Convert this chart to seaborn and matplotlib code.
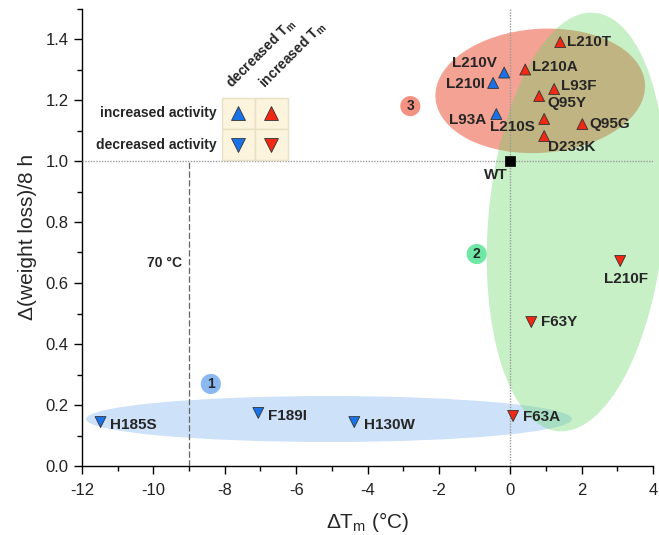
import pandas as pd
import seaborn as sns
import matplotlib.pyplot as plt
from matplotlib import transforms
from matplotlib.patches import Ellipse, Rectangle
from matplotlib.ticker import MultipleLocator

# Mutant data: change of melting temperature vs change of activity
mutants = ["L210T", "L210A", "L210V", "L210I", "L93F", "Q95Y", "L93A", "L210S",
           "Q95G", "D233K", "L210F", "F63Y", "F63A", "H185S", "F189I", "H130W"]
delta_tm = [1.40, 0.42, -0.17, -0.48, 1.23, 0.81, -0.39, 0.95,
            2.02, 0.95, 3.08, 0.59, 0.08, -11.48, -7.06, -4.37]
delta_wl = [1.39, 1.30, 1.29, 1.256, 1.236, 1.213, 1.154, 1.138,
            1.121, 1.082, 0.672, 0.472, 0.164, 0.144, 0.174, 0.144]
tm_effect = ["inc", "inc", "dec", "dec", "inc", "inc", "dec", "inc",
             "inc", "inc", "inc", "inc", "inc", "dec", "dec", "dec"]
activity = ["inc", "inc", "inc", "inc", "inc", "inc", "inc", "inc",
            "inc", "inc", "dec", "dec", "dec", "dec", "dec", "dec"]

wt_tm = [0.0]
wt_wl = [1.0]

# cluster badges
cluster_ids = ["1", "2", "3"]
cluster_x = [-8.39, -0.94, -2.80]
cluster_y = [0.269, 0.695, 1.18]
cluster_colors = ["#8ab8f0", "#6fe8a6", "#f49282"]

ref_tm_70 = -9.0

# label placement (offset in points, horizontal alignment)
label_pos = {
    "L210T": (5, 0, "left"), "L210A": (5, 2, "left"), "L210V": (-5, 7, "right"),
    "L210I": (-6, -1, "right"), "L93F": (5, 2, "left"), "Q95Y": (6, -5, "left"),
    "L93A": (-7, -4, "right"), "L210S": (-7, -6, "right"), "Q95G": (5, 0, "left"),
    "D233K": (3, -8, "left"), "L210F": (4, -13, "center"), "F63Y": (7, 0, "left"),
    "F63A": (7, -1, "left"), "H185S": (7, -2, "left"), "F189I": (7, -2, "left"),
    "H130W": (7, -2, "left"),
}

BLUE = "#1a72e8"
RED = "#f02814"

sns.set_style("ticks")
plt.rcParams['font.family'] = ['Liberation Sans', 'DejaVu Sans']
plt.rcParams['mathtext.fontset'] = 'custom'
plt.rcParams['mathtext.rm'] = 'Liberation Sans'
plt.rcParams['mathtext.bf'] = 'Liberation Sans:bold'
plt.rcParams['mathtext.it'] = 'Liberation Sans:italic'
plt.rcParams['axes.unicode_minus'] = False

fig = plt.figure(figsize=(6.59, 5.35), dpi=100)
ax = fig.add_axes([82 / 659, 69 / 535, 571 / 659, 457.5 / 535])
ax.set_xlim(-12, 4)
ax.set_ylim(0, 1.5)


def px_ellipse(center, rx, ry, angle, **kw):
    # ellipse sized in pixels, centred on a data point
    tr = (transforms.Affine2D().scale(fig.dpi / 100)
          + transforms.ScaledTranslation(center[0], center[1], ax.transData))
    e = Ellipse((0, 0), 2 * rx, 2 * ry, angle=angle, transform=tr, **kw)
    ax.add_patch(e)
    return e


# Cluster shapes
px_ellipse((-5.08, 0.154), 243, 23, 0, facecolor="#cde1f8", edgecolor="none", zorder=1)
px_ellipse((0.84, 1.23), 105, 62, 4, facecolor="#f4a294", edgecolor="none", zorder=1)
green = px_ellipse((1.85, 0.80), 88, 210, -5, facecolor="#64d764", alpha=0.36,
                   edgecolor="none", zorder=2)
green.set_clip_on(False)

# Reference lines
ax.axhline(1.0, color="#9a9a9a", lw=1, ls=(0, (1, 1)), zorder=3)
ax.axvline(0.0, color="#9a9a9a", lw=1, ls=(0, (1, 1)), zorder=3)
ax.plot([ref_tm_70, ref_tm_70], [0, 1.0], color="#666666", lw=0.9,
        ls=(0, (5, 2)), zorder=3)
ax.text(ref_tm_70 - 0.2, 0.665, "70 °C", ha="right", va="center",
        fontsize=10, fontweight="bold", zorder=6)

df = pd.DataFrame({"mutant": mutants, "dTm": delta_tm, "dWL": delta_wl,
                   "tm": tm_effect, "activity": activity})

sns.scatterplot(data=df, x="dTm", y="dWL", hue="tm", style="activity",
                palette={"inc": RED, "dec": BLUE},
                markers={"inc": "^", "dec": "v"},
                s=62, edgecolor="#333333", linewidth=0.6, legend=False,
                zorder=5, ax=ax)
sns.scatterplot(x=wt_tm, y=wt_wl, marker="s", color="black", s=45,
                edgecolor="black", linewidth=0.5, legend=False, zorder=5, ax=ax)

for name, x, y in zip(mutants, delta_tm, delta_wl):
    dx, dy, ha = label_pos[name]
    ax.annotate(name, (x, y), xytext=(dx, dy), textcoords="offset points",
                ha=ha, va="center", fontsize=11, fontweight="bold", zorder=6)
ax.annotate("WT", (wt_tm[0], wt_wl[0]), xytext=(-2, -10), textcoords="offset points",
            ha="right", va="center", fontsize=11, fontweight="bold", zorder=6)

# Cluster badges
ax.scatter(cluster_x, cluster_y, s=210, c=cluster_colors, edgecolors="none", zorder=5)
for cid, x, y in zip(cluster_ids, cluster_x, cluster_y):
    ax.text(x, y, cid, ha="center", va="center", fontsize=10,
            fontweight="bold", zorder=6)

# Marker key (2x2 table)
col_x = [-8.09, -7.165]
row_y = [1.105, 1.003]
cell_w = 0.925
cell_h = 0.102
key_marker = [["^", "^"], ["v", "v"]]
key_color = [BLUE, RED]
for r in range(2):
    for c in range(2):
        ax.add_patch(Rectangle((col_x[c], row_y[r]), cell_w, cell_h,
                               facecolor="#fcf4dc", edgecolor="#e8dfc4",
                               lw=1, zorder=4))
        ax.scatter(col_x[c] + cell_w / 2, row_y[r] + cell_h / 2,
                   marker=key_marker[r][c], s=100, c=key_color[c],
                   edgecolors="#333333", linewidths=0.6, zorder=5)
row_labels = ["increased activity", "decreased activity"]
for r in range(2):
    ax.text(col_x[0] - 0.15, row_y[r] + cell_h / 2, row_labels[r], ha="right",
            va="center", fontsize=10, fontweight="bold", zorder=6)
col_labels = [r"decreased T$_\mathbf{m}$", r"increased T$_\mathbf{m}$"]
for c in range(2):
    ax.text(col_x[c] + 0.38, row_y[0] + cell_h + 0.02, col_labels[c],
            rotation=45, rotation_mode="anchor", ha="left", va="bottom",
            fontsize=10, fontweight="bold", zorder=6)

# Axes styling
ax.xaxis.set_major_locator(MultipleLocator(2))
ax.xaxis.set_minor_locator(MultipleLocator(1))
ax.yaxis.set_minor_locator(MultipleLocator(0.1))
ax.set_yticks([0.0, 0.2, 0.4, 0.6, 0.8, 1.0, 1.2, 1.4])
ax.set_yticklabels(["0.0", "0.2", "0.4", "0.6", "0.8", "1.0", "1.2", "1.4"])
ax.tick_params(which="major", direction="out", length=6, width=1,
               labelsize=12, color="black", labelcolor="#222222")
ax.tick_params(axis="x", which="major", pad=6)
ax.tick_params(which="minor", direction="out", length=3.5, width=1, color="black")
sns.despine(ax=ax)
for sp in ["left", "bottom"]:
    ax.spines[sp].set_color("black")
    ax.spines[sp].set_linewidth(1)

ax.set_xlabel("ΔT$_\\mathrm{m}$ (°C)", fontsize=15, labelpad=9)
ax.set_ylabel("Δ(weight loss)/8 h", fontsize=15, labelpad=6)

plt.savefig("out.png", dpi=100)
plt.close()
